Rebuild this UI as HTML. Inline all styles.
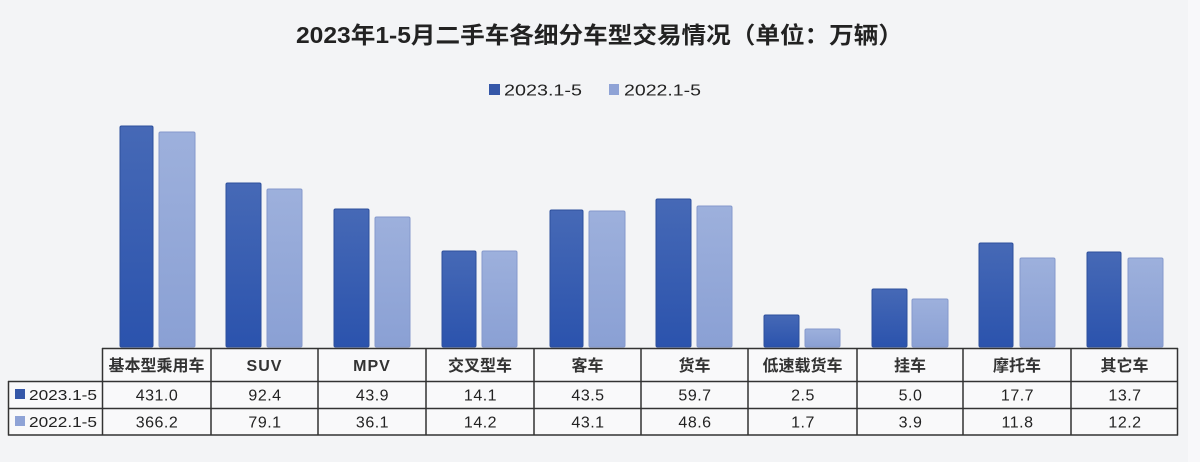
<!DOCTYPE html>
<html>
<head>
<meta charset="utf-8">
<style>
html,body{margin:0;padding:0;background:#f3f4f6;}
svg{display:block;}
text{font-family:"Liberation Sans","Noto Sans CJK SC",sans-serif;}
</style>
</head>
<body>
<svg width="1200" height="462" viewBox="0 0 1200 462" xmlns="http://www.w3.org/2000/svg">
<defs>
<linearGradient id="gd" x1="0" y1="0" x2="0" y2="1">
<stop offset="0" stop-color="#4669b6"/>
<stop offset="1" stop-color="#2b53ad"/>
</linearGradient>
<linearGradient id="gl" x1="0" y1="0" x2="0" y2="1">
<stop offset="0" stop-color="#9db0dc"/>
<stop offset="1" stop-color="#8aa0d4"/>
</linearGradient>
</defs>
<rect x="0" y="0" width="1200" height="462" fill="#f3f4f6"/>
<rect x="1188" y="0" width="12" height="462" fill="#f8f8fa"/>

<!-- Title -->
<text x="296" y="43" font-size="23" font-weight="bold" fill="#222" textLength="607" lengthAdjust="spacingAndGlyphs">2023年1-5月二手车各细分车型交易情况（单位：万辆）</text>

<!-- Legend -->
<rect x="489" y="84" width="11" height="11" fill="#3557a8"/>
<text x="504" y="95.5" font-size="16" fill="#222" textLength="78" lengthAdjust="spacingAndGlyphs">2023.1-5</text>
<rect x="609" y="84" width="10" height="11" fill="#8fa3d6"/>
<text x="624" y="95.5" font-size="16" fill="#222" textLength="77" lengthAdjust="spacingAndGlyphs">2022.1-5</text>

<!-- Bars -->
<g stroke-width="1">
<rect x="120" y="126" width="33" height="221" rx="1.5" fill="url(#gd)" stroke="#2d4f9c"/>
<rect x="159" y="132" width="36" height="215" rx="1.5" fill="url(#gl)" stroke="#8599cc"/>
<rect x="226" y="183" width="35" height="164" rx="1.5" fill="url(#gd)" stroke="#2d4f9c"/>
<rect x="267" y="189" width="35" height="158" rx="1.5" fill="url(#gl)" stroke="#8599cc"/>
<rect x="334" y="209" width="35" height="138" rx="1.5" fill="url(#gd)" stroke="#2d4f9c"/>
<rect x="375" y="217" width="35" height="130" rx="1.5" fill="url(#gl)" stroke="#8599cc"/>
<rect x="442" y="251" width="34" height="96" rx="1.5" fill="url(#gd)" stroke="#2d4f9c"/>
<rect x="482" y="251" width="35" height="96" rx="1.5" fill="url(#gl)" stroke="#8599cc"/>
<rect x="550" y="210" width="33" height="137" rx="1.5" fill="url(#gd)" stroke="#2d4f9c"/>
<rect x="589" y="211" width="36" height="136" rx="1.5" fill="url(#gl)" stroke="#8599cc"/>
<rect x="656" y="199" width="35" height="148" rx="1.5" fill="url(#gd)" stroke="#2d4f9c"/>
<rect x="697" y="206" width="35" height="141" rx="1.5" fill="url(#gl)" stroke="#8599cc"/>
<rect x="764" y="315" width="35" height="32" rx="1.5" fill="url(#gd)" stroke="#2d4f9c"/>
<rect x="805" y="329" width="35" height="18" rx="1.5" fill="url(#gl)" stroke="#8599cc"/>
<rect x="872" y="289" width="35" height="58" rx="1.5" fill="url(#gd)" stroke="#2d4f9c"/>
<rect x="912" y="299" width="36" height="48" rx="1.5" fill="url(#gl)" stroke="#8599cc"/>
<rect x="979" y="243" width="34" height="104" rx="1.5" fill="url(#gd)" stroke="#2d4f9c"/>
<rect x="1020" y="258" width="35" height="89" rx="1.5" fill="url(#gl)" stroke="#8599cc"/>
<rect x="1087" y="252" width="34" height="95" rx="1.5" fill="url(#gd)" stroke="#2d4f9c"/>
<rect x="1128" y="258" width="35" height="89" rx="1.5" fill="url(#gl)" stroke="#8599cc"/>
</g>

<!-- Table backgrounds -->
<rect x="102" y="348" width="1076" height="87" fill="#f9f9fa"/>
<rect x="8" y="381" width="94" height="54" fill="#f9f9fa"/>

<!-- Table lines -->
<g stroke="#333" stroke-width="1.5" fill="none">
<line x1="102" y1="348.5" x2="1178" y2="348.5"/>
<line x1="8" y1="381.5" x2="1178" y2="381.5"/>
<line x1="8" y1="408.5" x2="1178" y2="408.5"/>
<line x1="8" y1="435" x2="1178" y2="435"/>
<line x1="8.5" y1="381" x2="8.5" y2="435.5"/>
<line x1="102.5" y1="348" x2="102.5" y2="435.5"/>
<line x1="211" y1="348" x2="211" y2="435.5"/>
<line x1="318" y1="348" x2="318" y2="435.5"/>
<line x1="426" y1="348" x2="426" y2="435.5"/>
<line x1="534" y1="348" x2="534" y2="435.5"/>
<line x1="641" y1="348" x2="641" y2="435.5"/>
<line x1="748" y1="348" x2="748" y2="435.5"/>
<line x1="857" y1="348" x2="857" y2="435.5"/>
<line x1="963" y1="348" x2="963" y2="435.5"/>
<line x1="1071" y1="348" x2="1071" y2="435.5"/>
<line x1="1177.5" y1="348" x2="1177.5" y2="435.5"/>
</g>

<!-- Row labels -->
<rect x="15" y="389" width="10" height="10" fill="#3557a8"/>
<text x="29" y="400" font-size="15" fill="#222" textLength="68" lengthAdjust="spacingAndGlyphs">2023.1-5</text>
<rect x="15" y="416" width="10" height="10" fill="#8fa3d6"/>
<text x="29" y="427" font-size="15" fill="#222" textLength="68" lengthAdjust="spacingAndGlyphs">2022.1-5</text>

<!-- Header -->
<g font-size="16" font-weight="bold" fill="#333" text-anchor="middle">
<text x="156.5" y="371">基本型乘用车</text>
<text x="264.5" y="371" letter-spacing="1">SUV</text>
<text x="372" y="371" letter-spacing="1">MPV</text>
<text x="480" y="371">交叉型车</text>
<text x="587.5" y="371">客车</text>
<text x="694.5" y="371">货车</text>
<text x="802.5" y="371">低速载货车</text>
<text x="910" y="371">挂车</text>
<text x="1017" y="371">摩托车</text>
<text x="1124.5" y="371">其它车</text>
</g>

<!-- Row 1 values -->
<g font-size="16" fill="#222" text-anchor="middle" letter-spacing="0.5">
<text x="157" y="400.5">431.0</text>
<text x="265" y="400.5">92.4</text>
<text x="372.5" y="400.5">43.9</text>
<text x="480.5" y="400.5">14.1</text>
<text x="588" y="400.5">43.5</text>
<text x="695" y="400.5">59.7</text>
<text x="803" y="400.5">2.5</text>
<text x="910.5" y="400.5">5.0</text>
<text x="1017.5" y="400.5">17.7</text>
<text x="1125" y="400.5">13.7</text>
</g>
<!-- Row 2 values -->
<g font-size="16" fill="#222" text-anchor="middle" letter-spacing="0.5">
<text x="157" y="427.5">366.2</text>
<text x="265" y="427.5">79.1</text>
<text x="372.5" y="427.5">36.1</text>
<text x="480.5" y="427.5">14.2</text>
<text x="588" y="427.5">43.1</text>
<text x="695" y="427.5">48.6</text>
<text x="803" y="427.5">1.7</text>
<text x="910.5" y="427.5">3.9</text>
<text x="1017.5" y="427.5">11.8</text>
<text x="1125" y="427.5">12.2</text>
</g>
</svg>
</body>
</html>
